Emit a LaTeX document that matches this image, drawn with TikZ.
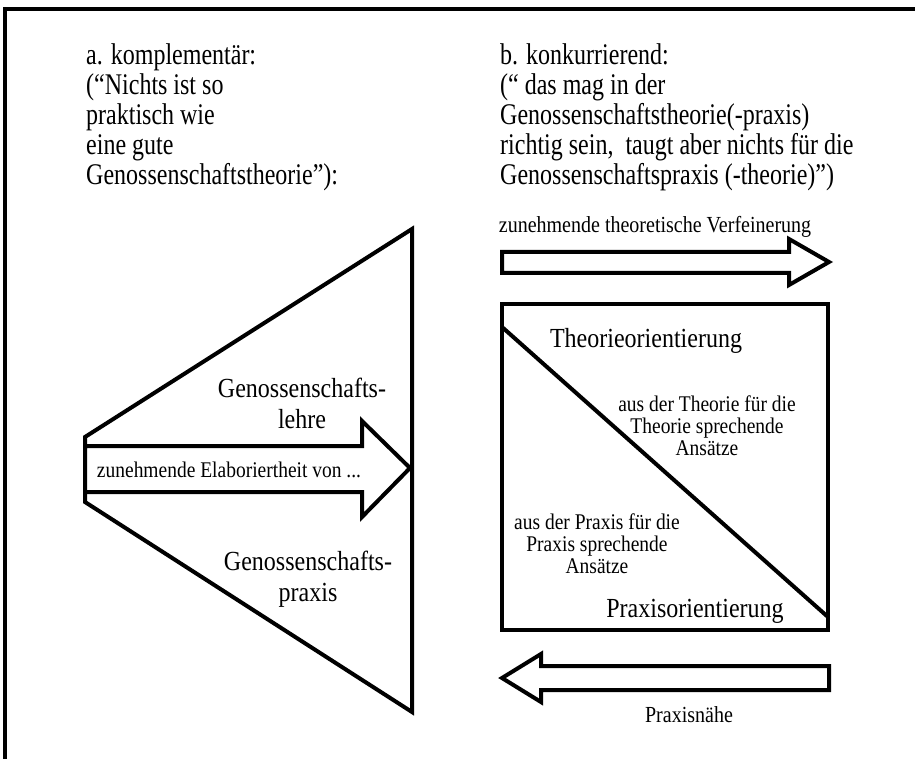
\documentclass[tikz,border=0pt]{standalone}
\usepackage{fontspec}
\setmainfont[FakeStretch=0.87]{Liberation Serif}
\newfontfamily\topfont[FakeStretch=0.8]{Liberation Serif}
\newcommand\tightlines{\lineskiplimit=-100pt\relax}
\begin{document}
\begin{tikzpicture}[x=1pt,y=-1pt,
  heavy/.style={line width=4pt, line join=miter},
  txt/.style={inner sep=0pt, font={\topfont\fontsize{30}{30}\selectfont\tightlines}, align=left, anchor=base west},
  lbl/.style={inner sep=0pt, align=center, anchor=base},
  big/.style={font={\fontsize{27.6}{30.5}\selectfont\tightlines}},
  mid/.style={font={\fontsize{22.4}{22}\selectfont\tightlines}},
  sml/.style={font={\fontsize{23}{22}\selectfont}}]
\useasboundingbox (0,0) rectangle (918,759);
\fill[white] (0,0) rectangle (918,759);
% frame
\draw[heavy] (5,759) -- (5,9) -- (915,9);
% top texts
\node[txt] (ta) at (86,185) {a. komplementär:\\(“Nichts ist so\\praktisch wie\\eine gute\\Genossenschaftstheorie”):};
\node[txt] (tb) at (500,185) {b. konkurrierend:\\(“ das mag in der\\Genossenschaftstheorie(-praxis)\\richtig sein,\ \ taugt aber nichts für die\\Genossenschaftspraxis (-theorie)”)};
% left trapezoid
\draw[heavy] (85,437) -- (412,229) -- (412,712) -- (85,502) -- cycle;
% left arrow
\draw[heavy, fill=white] (85,446) -- (362,446) -- (362,421) -- (410,468) -- (362,517) -- (362,492) -- (85,492) -- cycle;
\node[lbl, mid] (elab) at (229,477) {zunehmende Elaboriertheit von ...};
\node[lbl, big] (lehre) at (302,428) {Genossenschafts-\\lehre};
\node[lbl, big] (praxis) at (308,601) {Genossenschafts-\\praxis};
% right top arrow
\node[lbl, sml] (verf) at (655,233) {zunehmende theoretische Verfeinerung};
\draw[heavy] (502,252) -- (789,252) -- (789,239) -- (829,262) -- (789,285) -- (789,273) -- (502,273) -- cycle;
% square
\draw[heavy] (502,304) rectangle (828,630);
\draw[heavy] (502,327) -- (828,617);
\node[lbl, big] (theo) at (646,347) {Theorieorientierung};
\node[lbl, mid] (tt) at (707,455) {aus der Theorie für die\\Theorie sprechende\\Ansätze};
\node[lbl, mid] (pp) at (597,573) {aus der Praxis für die\\Praxis sprechende\\Ansätze};
\node[lbl, big] (prax) at (695,617) {Praxisorientierung};
% bottom arrow
\draw[heavy] (829,666) -- (541,666) -- (541,654) -- (502,678) -- (541,702) -- (541,690) -- (829,690) -- cycle;
\node[lbl, sml] (naehe) at (689,722) {Praxisnähe};
\end{tikzpicture}
\end{document}
